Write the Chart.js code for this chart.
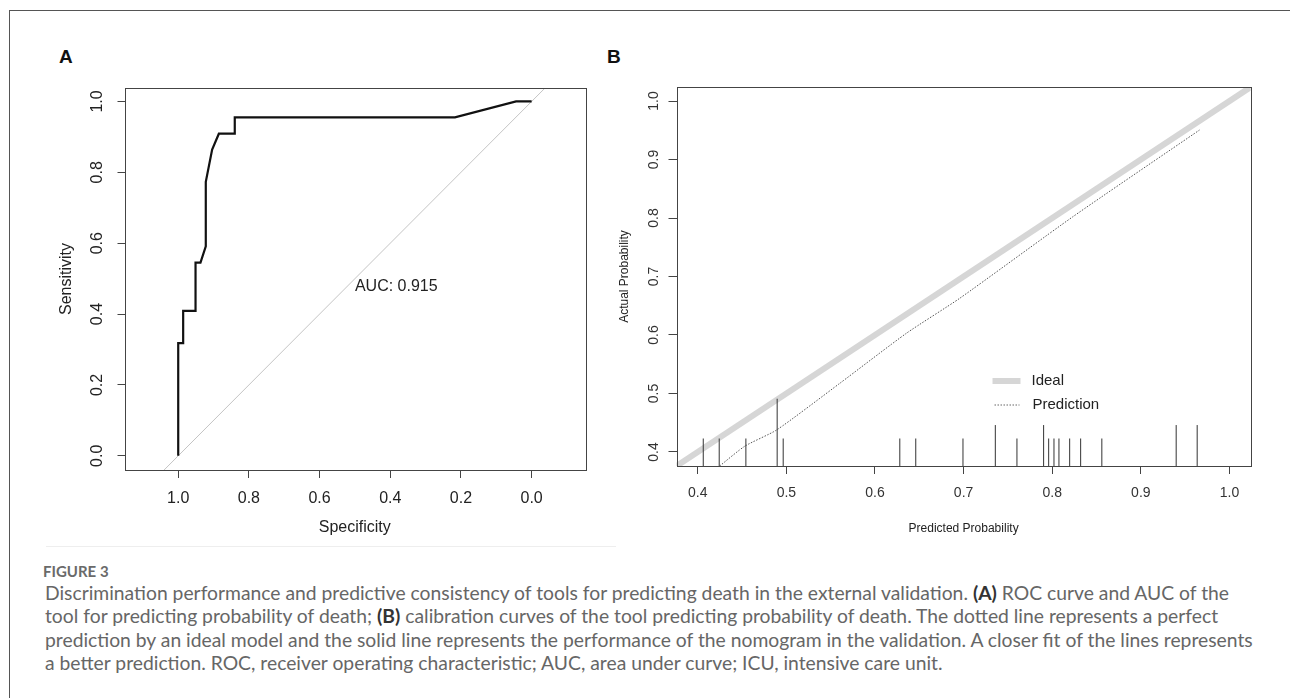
<!DOCTYPE html>
<html>
<head>
<meta charset="utf-8">
<script src="https://cdn.jsdelivr.net/npm/chart.js@4.4.1/dist/chart.umd.min.js"></script>
<style>
  body { margin: 0; background: #fff; width: 1290px; height: 698px; overflow: hidden; position: relative; font-family: "Liberation Sans", Arial, sans-serif; }
  #frame { position: absolute; left: 9px; top: 10px; width: 1300px; height: 700px; border-left: 1px solid #555; border-top: 1px solid #555; }
  #sep { position: absolute; left: 46px; top: 546px; width: 570px; height: 1px; background: #eeeeee; }
  canvas { position: absolute; top: 0; }
  #rocChart { left: 0; }
  #calChart { left: 600px; }
  .tag { position: absolute; font-weight: bold; font-size: 19px; color: #111; line-height: 1; }
  #fig { position: absolute; left: 43px; top: 562px; font-family: Lato, "Open Sans", sans-serif; font-weight: bold; font-size: 15px; color: #6a6a6a; line-height: 18px; }
  .cap { position: absolute; left: 45px; font-family: Lato, "Open Sans", sans-serif; color: #666; white-space: nowrap; line-height: 20px; }
  .cap b { color: #333; }
</style>
</head>
<body>
<div id="frame"></div>
<div class="tag" style="left:59px;top:47px">A</div>
<div class="tag" style="left:607px;top:47px">B</div>
<canvas id="rocChart" width="600" height="545"></canvas>
<canvas id="calChart" width="690" height="545"></canvas>
<div id="sep"></div>
<div id="fig">FIGURE 3</div>
<div class="cap" id="c1">Discrimination performance and predictive consistency of tools for predicting death in the external validation. <b>(A)</b> ROC curve and AUC of the</div>
<div class="cap" id="c2">tool for predicting probability of death; <b>(B)</b> calibration curves of the tool predicting probability of death. The dotted line represents a perfect</div>
<div class="cap" id="c3">prediction by an ideal model and the solid line represents the performance of the nomogram in the validation. A closer fit of the lines represents</div>
<div class="cap" id="c4">a better prediction. ROC, receiver operating characteristic; AUC, area under curve; ICU, intensive care unit.</div>
<script>
// panel A: ROC curve (specificity vs sensitivity)
const rocSpec = [1.0, 1.0, 0.986, 0.986, 0.951, 0.951, 0.937, 0.922, 0.922, 0.904, 0.885, 0.840, 0.840, 0.217, 0.044, 0.0];
const rocSens = [0.0, 0.318, 0.318, 0.409, 0.409, 0.545, 0.545, 0.591, 0.773, 0.864, 0.909, 0.909, 0.955, 0.955, 1.0, 1.0];
const chanceSpec = [1.2, -0.2];
const chanceSens = [-0.2, 1.2];
const rocTicks = [0, 0.2, 0.4, 0.6, 0.8, 1.0];
const aucLabel = 'AUC: 0.915';

// panel B: calibration
const idealX = [0.3, 1.1];
const idealY = [0.3, 1.1];
const predX = [0.4247, 0.4532, 0.489, 0.5603, 0.6355, 0.6956, 0.8233, 0.9662];
const predY = [0.376, 0.410, 0.4376, 0.5174, 0.603, 0.6627, 0.8022, 0.9504];
const rugX = [0.4062, 0.4242, 0.4543, 0.4896, 0.4964, 0.628, 0.646, 0.6993, 0.7358, 0.7602, 0.7903, 0.796, 0.802, 0.8076, 0.8197, 0.8321, 0.856, 0.9399, 0.9636];
const rugTop = [0.423, 0.423, 0.423, 0.491, 0.423, 0.423, 0.423, 0.423, 0.446, 0.423, 0.446, 0.423, 0.423, 0.423, 0.423, 0.423, 0.423, 0.446, 0.446];
const calTicks = [0.4, 0.5, 0.6, 0.7, 0.8, 0.9, 1.0];
const calMin = 0.376, calMax = 1.024;

const pts = (xs, ys) => xs.map((x, i) => ({ x: x, y: ys[i] }));

// box around plot area + rotated y tick labels, like base R graphics
const rBox = {
  id: 'rbox',
  afterDatasetsDraw(chart, args, opts) {
    const { ctx, chartArea: a } = chart;
    ctx.save();
    ctx.strokeStyle = '#444';
    ctx.lineWidth = 1;
    ctx.strokeRect(Math.round(a.left) + 0.5, Math.round(a.top) + 0.5, Math.round(a.right - a.left), Math.round(a.bottom - a.top));
    const ys = chart.scales.y;
    ctx.fillStyle = opts.color;
    ctx.font = opts.font;
    ctx.textAlign = 'center';
    ctx.textBaseline = 'middle';
    ys.ticks.forEach(t => {
      ctx.save();
      ctx.translate(a.left - opts.gap, ys.getPixelForValue(t.value));
      ctx.rotate(-Math.PI / 2);
      ctx.fillText(t.value.toFixed(1), 0, 0);
      ctx.restore();
    });
    ctx.restore();
  }
};

const aucText = {
  id: 'auctext',
  afterDatasetsDraw(chart) {
    const { ctx, scales } = chart;
    ctx.save();
    ctx.fillStyle = '#222';
    ctx.font = '16px "Liberation Sans", Arial, sans-serif';
    ctx.textAlign = 'left';
    ctx.textBaseline = 'top';
    ctx.fillText(aucLabel, scales.x.getPixelForValue(0.5), scales.y.getPixelForValue(0.5));
    ctx.restore();
  }
};

const calLegend = {
  id: 'callegend',
  afterDatasetsDraw(chart) {
    const { ctx, chartArea: a } = chart;
    const x0 = a.left + 316, y0 = a.top + 294;
    ctx.save();
    ctx.strokeStyle = '#d6d6d6';
    ctx.lineWidth = 6;
    ctx.beginPath(); ctx.moveTo(x0, y0); ctx.lineTo(x0 + 28, y0); ctx.stroke();
    ctx.strokeStyle = '#666';
    ctx.lineWidth = 1;
    ctx.setLineDash([1.5, 1.5]);
    ctx.beginPath(); ctx.moveTo(x0 + 2, y0 + 24); ctx.lineTo(x0 + 27, y0 + 24); ctx.stroke();
    ctx.setLineDash([]);
    ctx.fillStyle = '#222';
    ctx.font = '15px "Liberation Sans", Arial, sans-serif';
    ctx.textBaseline = 'middle';
    ctx.fillText('Ideal', x0 + 39, y0);
    ctx.fillText('Prediction', x0 + 40, y0 + 24);
    ctx.restore();
  }
};

const fixTicks = vals => s => { s.ticks = vals.map(v => ({ value: v })); };
const tickGrid = { display: true, drawOnChartArea: false, drawTicks: true, tickLength: 8, color: '#444', lineWidth: 1 };

new Chart(document.getElementById('rocChart'), {
  type: 'line',
  data: {
    datasets: [
      { data: pts(rocSpec, rocSens), borderColor: '#111', borderWidth: 2.2, pointRadius: 0, tension: 0, order: 1 },
      { data: pts(chanceSpec, chanceSens), borderColor: '#c4c4c4', borderWidth: 1, pointRadius: 0, order: 2, clip: 0 }
    ]
  },
  options: {
    responsive: false,
    animation: false,
    events: [],
    layout: { padding: { left: 0, top: 88, right: 15, bottom: 0 } },
    plugins: {
      legend: { display: false },
      tooltip: { enabled: false },
      rbox: { font: '16px "Liberation Sans", Arial, sans-serif', color: '#222', gap: 26.5 }
    },
    scales: {
      x: {
        type: 'linear', reverse: true, min: -0.151, max: 1.152,
        afterBuildTicks: fixTicks(rocTicks),
        afterFit: s => { s.height = 75; },
        grid: tickGrid, border: { display: false },
        ticks: { padding: 11, color: '#222', font: { family: '"Liberation Sans", Arial, sans-serif', size: 16 }, callback: v => v.toFixed(1), maxRotation: 0 },
        title: { display: true, text: 'Specificity', color: '#222', font: { family: '"Liberation Sans", Arial, sans-serif', size: 16 }, padding: { top: 0, bottom: 7.9 } }
      },
      y: {
        type: 'linear', min: -0.04, max: 1.038,
        afterBuildTicks: fixTicks(rocTicks),
        afterFit: s => { s.width = 124.5; },
        grid: Object.assign({}, tickGrid, { tickLength: 7 }), border: { display: false },
        ticks: { display: false },
        title: { display: true, text: 'Sensitivity', color: '#222', font: { family: '"Liberation Sans", Arial, sans-serif', size: 16 }, padding: { top: 57.4, bottom: 0 } }
      }
    }
  },
  plugins: [rBox, aucText]
});

// rug spikes as vertical segments separated by gaps
const rugPts = [];
rugX.forEach((x, i) => {
  rugPts.push({ x: x, y: calMin }, { x: x, y: rugTop[i] }, { x: x, y: null });
});

new Chart(document.getElementById('calChart'), {
  type: 'line',
  data: {
    datasets: [
      { data: pts(idealX, idealY), borderColor: '#d6d6d6', borderWidth: 6, pointRadius: 0, clip: 0, order: 3 },
      { data: pts(predX, predY), borderColor: '#555', borderWidth: 1, borderDash: [1.5, 1.5], pointRadius: 0, tension: 0.2, clip: 0, order: 2 },
      { data: rugPts, borderColor: '#333', borderWidth: 1, pointRadius: 0, spanGaps: false, order: 1 }
    ]
  },
  options: {
    responsive: false,
    animation: false,
    events: [],
    layout: { padding: { left: 0, top: 87, right: 39.3, bottom: 0 } },
    plugins: {
      legend: { display: false },
      tooltip: { enabled: false },
      rbox: { font: '14px "Liberation Sans", Arial, sans-serif', color: '#333', gap: 22 }
    },
    scales: {
      x: {
        type: 'linear', min: calMin, max: calMax,
        afterBuildTicks: fixTicks(calTicks),
        afterFit: s => { s.height = 79; },
        grid: tickGrid, border: { display: false },
        ticks: { padding: 11, color: '#333', font: { family: '"Liberation Sans", Arial, sans-serif', size: 14 }, callback: v => v.toFixed(1), maxRotation: 0 },
        title: { display: true, text: 'Predicted Probability', color: '#222', font: { family: '"Liberation Sans", Arial, sans-serif', size: 12 }, padding: { top: 0, bottom: 9.2 } }
      },
      y: {
        type: 'linear', min: calMin, max: calMax,
        afterBuildTicks: fixTicks(calTicks),
        afterFit: s => { s.width = 76.5; },
        grid: tickGrid, border: { display: false },
        ticks: { display: false },
        title: { display: true, text: 'Actual Probability', color: '#222', font: { family: '"Liberation Sans", Arial, sans-serif', size: 12 }, padding: { top: 17.3, bottom: 0 } }
      }
    }
  },
  plugins: [rBox, calLegend]
});

// caption: fit first line to the reference width, put lines on their baselines
(function () {
  const lines = ['c1', 'c2', 'c3', 'c4'].map(id => document.getElementById(id));
  let size = 17;
  lines.forEach(l => { l.style.fontSize = size + 'px'; });
  const w = lines[0].getBoundingClientRect().width;
  size = size * 1185 / w;
  const tops = [587, 610.3, 633.6, 657];
  lines.forEach((l, i) => { l.style.fontSize = size + 'px'; l.style.top = (tops[i] - 4) + 'px'; });
})();
</script>
</body>
</html>
